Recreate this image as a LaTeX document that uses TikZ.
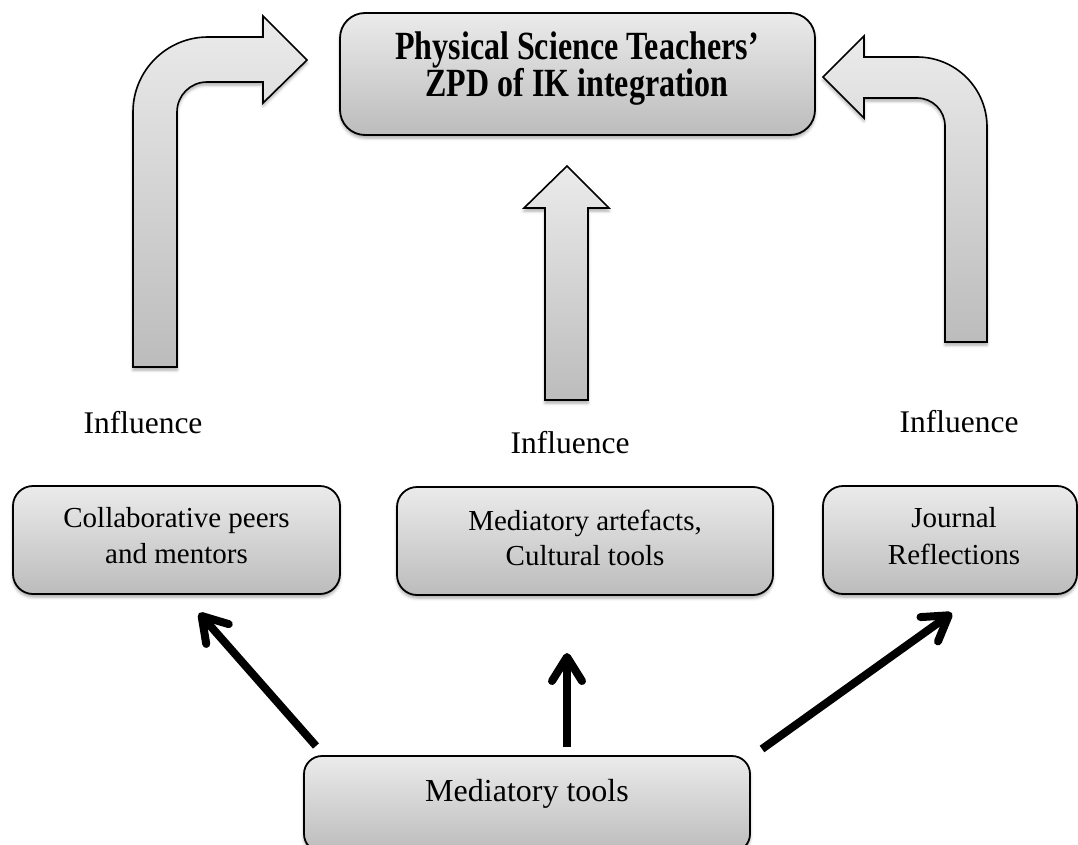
\documentclass[tikz,border=0pt]{standalone}
\usepackage{graphicx}
\usepackage{fontspec}
\setmainfont{Liberation Serif}
\usetikzlibrary{arrows.meta,shadows.blur}
\definecolor{shadetop}{HTML}{EBEBEB}
\definecolor{shadebot}{HTML}{BCBCBC}
\newcommand{\tallbold}[1]{\scalebox{1}[1.25]{\bfseries #1}}
\begin{document}
\begin{tikzpicture}[x=1pt,y=-1pt,
  softshadow/.style={blur shadow={shadow xshift=0pt,shadow yshift=-3pt,
      shadow blur radius=3pt,shadow opacity=35}},
  panel/.style={draw=black,line width=1.8pt,inner sep=0pt,
      top color=shadetop,bottom color=shadebot,softshadow},
  blockarrow/.style={draw=black,line width=1.6pt,line join=miter,
      top color=shadetop,bottom color=shadebot,softshadow},
  linkarrow/.style={line width=8pt,
      -{Straight Barb[length=24pt,width=30pt,round]}},
  label/.style={anchor=base,inner sep=0pt,align=center}]

\useasboundingbox (0,0) rectangle (1078,845);
\clip (0,0) rectangle (1078,845);

% boxes
\node[panel,rounded corners=25pt,minimum width=475pt,minimum height=122pt]
  (goal) at (577.5,74) {};
\node[panel,rounded corners=20pt,minimum width=327pt,minimum height=108pt]
  (peers) at (176.5,540) {};
\node[panel,rounded corners=20pt,minimum width=376pt,minimum height=108pt]
  (artefacts) at (585,541) {};
\node[panel,rounded corners=20pt,minimum width=254pt,minimum height=108pt]
  (journal) at (950,540) {};
\node[panel,rounded corners=18pt,minimum width=446pt,minimum height=96pt]
  (tools) at (527,804) {};

% box texts
\node[label,font=\fontsize{32}{37}\selectfont] (goalA) at (577,60)
  {\tallbold{Physical Science Teachers’}};
\node[label,font=\fontsize{32}{37}\selectfont] (goalB) at (577,97)
  {\tallbold{ZPD of IK integration}};
\node[label,font=\fontsize{29}{37}\selectfont] (peersA) at (176.5,527) {Collaborative peers};
\node[label,font=\fontsize{29}{37}\selectfont] (peersB) at (176.5,563) {and mentors};
\node[label,font=\fontsize{29}{37}\selectfont] (artA) at (585,530) {Mediatory artefacts,};
\node[label,font=\fontsize{29}{37}\selectfont] (artB) at (585,565) {Cultural tools};
\node[label,font=\fontsize{29}{37}\selectfont] (jourA) at (954,527) {Journal};
\node[label,font=\fontsize{29}{37}\selectfont] (jourB) at (954,564) {Reflections};
\node[label,font=\fontsize{32}{37}\selectfont] (toolsA) at (527,801) {Mediatory tools};

% influence labels
\node[label,font=\fontsize{31.5}{37}\selectfont] (inflL) at (143,433) {Influence};
\node[label,font=\fontsize{31.5}{37}\selectfont] (inflM) at (570,453) {Influence};
\node[label,font=\fontsize{31.5}{37}\selectfont] (inflR) at (959,432) {Influence};

% bent block arrow on the left
\path[blockarrow] (133,367) -- (133,112)
  .. controls (133,70.6) and (166.6,37) .. (208,37)
  -- (263,37) -- (263,16) -- (307,60) -- (263,103) -- (263,82) -- (207,82)
  .. controls (190.4,82) and (177,95.4) .. (177,112)
  -- (177,367) -- cycle;

% bent block arrow on the right
\path[blockarrow] (987,342) -- (987,127)
  .. controls (987,88.3) and (955.7,57) .. (917,57)
  -- (864,57) -- (864,36) -- (823,77) -- (864,118) -- (864,98) -- (917,98)
  .. controls (932.5,98) and (945,110.5) .. (945,126)
  -- (945,342) -- cycle;

% straight block arrow in the middle
\path[blockarrow] (545,400) -- (545,208) -- (524,208) -- (567,166)
  -- (609,208) -- (588,208) -- (588,400) -- cycle;

% arrows out of the mediatory tools box
\coordinate (fromL) at (316,746);
\coordinate (toL) at (199,613);
\coordinate (fromM) at (567,747);
\coordinate (toM) at (567,653);
\coordinate (fromR) at (762,749);
\coordinate (toR) at (952,613);
\draw[linkarrow] (fromL) -- (toL);
\draw[linkarrow] (fromM) -- (toM);
\draw[linkarrow] (fromR) -- (toR);
\end{tikzpicture}
\end{document}
